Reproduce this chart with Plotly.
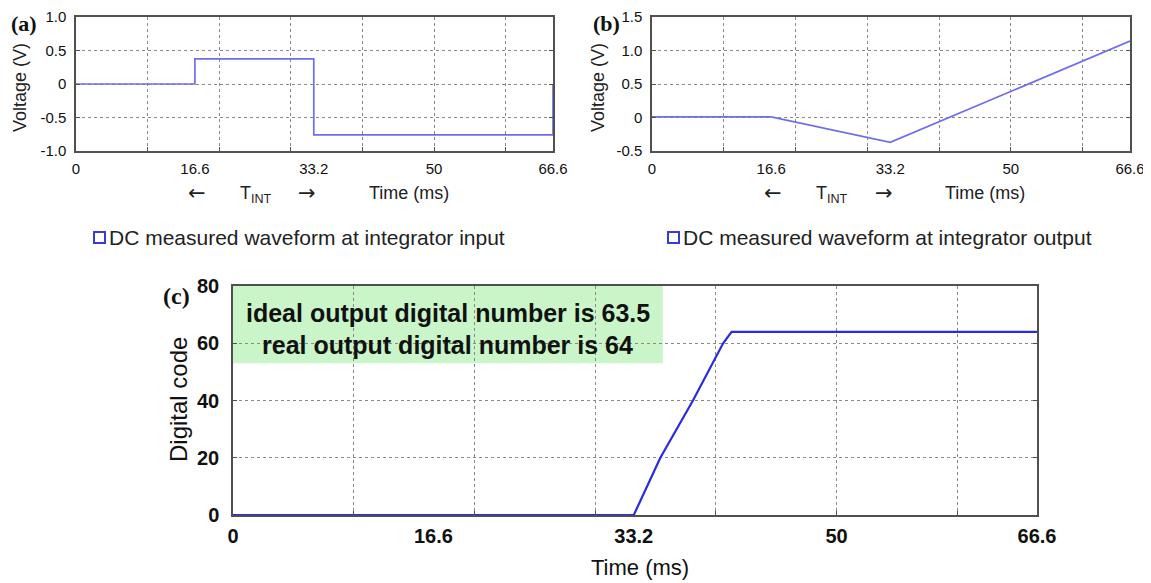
import plotly.graph_objects as go

W, H = 1151, 583
OFF = 8  # page body margin in the browser

# ---------------- data ----------------
a_time = [0, 16.6, 16.6, 33.2, 33.2, 66.6, 66.6]
a_volt = [0.0, 0.0, 0.375, 0.375, -0.76, -0.76, 0.0]

b_time = [0, 16.6, 33.2, 66.6]
b_volt = [0.01, 0.01, -0.37, 1.14]

c_time = [0, 33.2, 35.4, 38.1, 40.6, 41.3, 66.6]
c_code = [0, 0, 20, 40, 60, 64, 64]

x_tick_vals = [0, 16.6, 33.2, 50, 66.6]
x_tick_text = ["0", "16.6", "33.2", "50", "66.6"]
x_grid_vals = [10, 20, 30, 40, 50, 60]

a_y_ticks = [-1.0, -0.5, 0, 0.5, 1.0]
a_y_text = ["-1.0", "-0.5", "0", "0.5", "1.0"]
b_y_ticks = [-0.5, 0, 0.5, 1.0, 1.5]
b_y_text = ["-0.5", "0", "0.5", "1.0", "1.5"]
c_y_ticks = [0, 20, 40, 60, 80]

legend_a = "DC measured waveform at integrator input"
legend_b = "DC measured waveform at integrator output"
box_lines = ["ideal output digital number is 63.5", "real output digital number is 64"]


def px(x):
    return (x - OFF) / W


def py(y):
    return 1 - (y - OFF) / H


SANS = "Liberation Sans, Arial, sans-serif"
SERIF = "Liberation Serif, Times New Roman, serif"
ARROW = "DejaVu Sans, sans-serif"
AX = "#505050"
GRID = "#8a8a8a"

fig = go.Figure()
fig.add_trace(go.Scatter(x=a_time, y=a_volt, mode="lines", xaxis="x", yaxis="y",
                         line=dict(color="#6e6eec", width=1.7), showlegend=False, cliponaxis=False))
fig.add_trace(go.Scatter(x=b_time, y=b_volt, mode="lines", xaxis="x2", yaxis="y2",
                         line=dict(color="#6e6eec", width=1.7), showlegend=False, cliponaxis=False))
fig.add_trace(go.Scatter(x=c_time, y=c_code, mode="lines", xaxis="x3", yaxis="y3",
                         line=dict(color="#2a2ae0", width=2.2), showlegend=False, cliponaxis=False))


def xaxis(dom, fsize, bold=False, standoff=3):
    return dict(domain=dom, range=[0, 66.6], tickmode="array", tickvals=x_tick_vals,
                ticktext=[("<b>%s</b>" % t) if bold else t for t in x_tick_text],
                showgrid=False, zeroline=False, showline=True, mirror=True, automargin=False,
                linecolor=AX, linewidth=1.5, ticks="", ticklabelstandoff=standoff,
                ticklabeloverflow="allow",
                tickfont=dict(family=SANS, size=fsize, color="#111111"),
                minor=dict(tickmode="array", tickvals=x_grid_vals, showgrid=True,
                           gridcolor=GRID, griddash="dot", gridwidth=1,
                           ticks="inside", ticklen=4, tickcolor=AX))


def yaxis(dom, rng, vals, text, fsize, anchor, bold=False, standoff=5):
    return dict(domain=dom, range=rng, tickmode="array", tickvals=vals,
                ticktext=[("<b>%s</b>" % t) if bold else t for t in text],
                showgrid=True, gridcolor=GRID, griddash="dot", gridwidth=1,
                zeroline=False, showline=True, mirror="allticks", automargin=False,
                linecolor=AX, linewidth=1.5, ticks="inside", ticklen=4, tickcolor=AX,
                ticklabelstandoff=standoff, anchor=anchor, ticklabeloverflow="allow",
                tickfont=dict(family=SANS, size=fsize, color="#111111"))


yd_ab = [py(151), py(17)]
fig.update_layout(
    width=W, height=H, margin=dict(l=0, r=0, t=0, b=0, pad=0), autosize=False,
    paper_bgcolor="white", plot_bgcolor="white", showlegend=False,
    xaxis=dict(**xaxis([px(76), px(553)], 15), anchor="y"),
    yaxis=yaxis(yd_ab, [-1, 1], a_y_ticks, a_y_text, 15, "x"),
    xaxis2=dict(**xaxis([px(652), px(1130)], 15), anchor="y2"),
    yaxis2=yaxis(yd_ab, [-0.5, 1.5], b_y_ticks, b_y_text, 15, "x2"),
    xaxis3=dict(**xaxis([px(233), px(1037)], 20, bold=True, standoff=2), anchor="y3"),
    yaxis3=yaxis([py(515), py(286)], [0, 80], c_y_ticks, [str(v) for v in c_y_ticks],
                 20, "x3", bold=True, standoff=8),
)

# green info box in panel (c)
fig.add_shape(type="rect", xref="x3", yref="y3", x0=0, x1=35.6, y0=53, y1=80,
              fillcolor="#c9f5c9", line=dict(width=0), layer="below")

ann = []
# panel labels
ann.append(dict(text="<b>(a)</b>", x=px(24), y=py(23), font=dict(family=SERIF, size=22, color="#111")))
ann.append(dict(text="<b>(b)</b>", x=px(606), y=py(23), font=dict(family=SERIF, size=22, color="#111")))
ann.append(dict(text="<b>(c)</b>", x=px(176), y=py(296), font=dict(family=SERIF, size=24, color="#111")))
# y titles
ann.append(dict(text="Voltage (V)", x=px(20), y=py(88), textangle=-90,
                font=dict(family=SANS, size=18, color="#222")))
ann.append(dict(text="Voltage (V)", x=px(598), y=py(88), textangle=-90,
                font=dict(family=SANS, size=18, color="#222")))
ann.append(dict(text="Digital code", x=px(178), y=py(400), textangle=-90,
                font=dict(family=SANS, size=24, color="#111")))
# x titles with T_INT arrows
for xa in ["x", "x2"]:
    ann.append(dict(text="\u2190", x=16.9, xref=xa, y=py(193), font=dict(family=ARROW, size=21, color="#222")))
    ann.append(dict(text="T<sub>INT</sub>", x=25.1, xref=xa, y=py(195), font=dict(family=SANS, size=18, color="#222")))
    ann.append(dict(text="\u2192", x=32.3, xref=xa, y=py(193), font=dict(family=ARROW, size=21, color="#222")))
    ann.append(dict(text="Time (ms)", x=40.6, xref=xa, y=py(193), xanchor="left",
                    font=dict(family=SANS, size=18, color="#222")))
ann.append(dict(text="Time (ms)", x=px(640), y=py(567), font=dict(family=SANS, size=22, color="#111")))
# legends
ann.append(dict(text=legend_a, x=px(107), y=py(237), xanchor="left", font=dict(family=SANS, size=21, color="#222")))
ann.append(dict(text=legend_b, x=px(681), y=py(237), xanchor="left", font=dict(family=SANS, size=21, color="#222")))
# box text
ann.append(dict(text="<b>" + box_lines[0] + "</b>", x=17.8, xref="x3", y=py(313),
                font=dict(family=SANS, size=25, color="#111")))
ann.append(dict(text="<b>" + box_lines[1] + "</b>", x=17.8, xref="x3", y=py(345),
                font=dict(family=SANS, size=25, color="#111")))

for a in ann:
    a.setdefault("xref", "paper")
    a.setdefault("yref", "paper")
    a.setdefault("xanchor", "center")
    a.setdefault("yanchor", "middle")
    a["showarrow"] = False
    fig.add_annotation(**a)

# legend squares
for x0 in [94, 668]:
    fig.add_shape(type="rect", xref="paper", yref="paper", x0=px(x0), x1=px(x0 + 11),
                  y0=py(243), y1=py(232), line=dict(color="#3a3ad8", width=2), fillcolor="white")

fig.write_html("out.html")
